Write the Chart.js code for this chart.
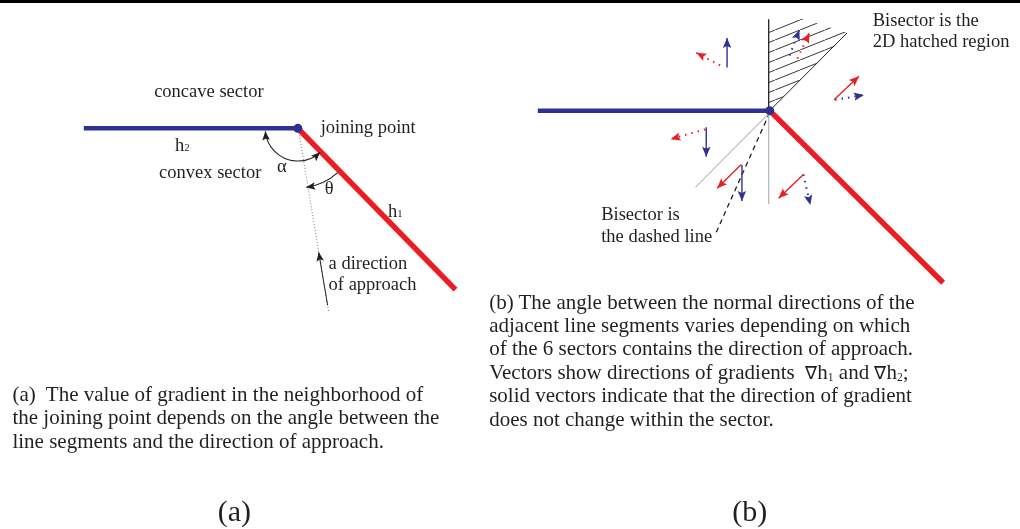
<!DOCTYPE html>
<html>
<head>
<meta charset="utf-8">
<script src="https://cdn.jsdelivr.net/npm/chart.js@4/dist/chart.umd.min.js"></script>
<style>
  html, body { margin: 0; padding: 0; background: #fff; }
  #wrap { position: relative; width: 1020px; height: 529px; overflow: hidden;
          font-family: "Liberation Serif", "Times New Roman", serif; color: #231f20; }
  #topRule { position: absolute; left: 0; top: 0; width: 1020px; height: 2.5px; background: #000; }
  #fig { position: absolute; left: 0; top: 0; }
  .lbl { position: absolute; white-space: nowrap; font-size: 18.5px; line-height: 1; transform: translateY(-50%); }
  .cap { position: absolute; white-space: nowrap; font-size: 21px; line-height: 23.4px; }
  .tag { position: absolute; white-space: nowrap; font-size: 30px; line-height: 1; transform: translate(-50%, -50%); }
  .sub { font-size: 58%; }
  .csub { font-size: 55%; vertical-align: -0.15em; line-height: 0; }
  .nab { font-size: 88%; line-height: 0; font-weight: 300; }
</style>
</head>
<body>
<div id="wrap">
  <canvas id="fig" width="1020" height="529"></canvas>
  <div id="topRule"></div>
</div>
<script>
// ── Colours ────────────────────────────────────────────────────────────────
const BLUE = '#2e3192';
const RED  = '#ed1c24';
const INK  = '#231f20';

// ── Panel (a) geometry (figure units = px of the 1020x529 sheet) ───────────
const jointA        = [{ x: 296, y: 126 }];
const blueSegA      = [{ x: 80,  y: 126 }, { x: 296, y: 126 }];
const redSegA       = [{ x: 296, y: 126 }, { x: 455, y: 290 }];
const approachLine  = [{ x: 297, y: 130 }, { x: 327, y: 312 }];
const approachArrow = [{ x: 326, y: 306 }, { x: 317, y: 252 }];
// arcs: centre, radius, from/to angle (deg, clockwise from +x), heads at ends
const arcAlpha = { cx: 296, cy: 126, r: 33, from: 47, to: 175, headFrom: true,  headTo: true };
const arcTheta = { cx: 296, cy: 126, r: 60, from: 48, to: 82,  headFrom: false, headTo: true };

// ── Panel (b) geometry ─────────────────────────────────────────────────────
const jointB       = [{ x: 772, y: 108 }];
const blueSegB     = [{ x: 538, y: 108 }, { x: 772, y: 108 }];
const redSegB      = [{ x: 772, y: 108 }, { x: 947, y: 283 }];
const hatchRegion  = [{ x: 771, y: 108 }, { x: 771, y: 21 }, { x: 797, y: 12 }, { x: 851, y: 29 }];
const hatchSide    = [{ x: 771, y: 15 },  { x: 771, y: 108 }];
const hatchDiag    = [{ x: 772, y: 108 }, { x: 850, y: 29 }];
const grayDiag     = [{ x: 697, y: 186 }, { x: 772, y: 110 }];
const grayVert     = [{ x: 771, y: 110 }, { x: 771, y: 203 }];
const dashedBisect = [{ x: 772, y: 110 }, { x: 718, y: 232 }];

// gradient vectors: [from, to], colour, dotted?
const vectors = [
  { pts: [{ x: 729, y: 64 },  { x: 729, y: 34 }],  color: BLUE, dotted: false },
  { pts: [{ x: 722, y: 62 },  { x: 698, y: 49 }],  color: RED,  dotted: true  },
  { pts: [{ x: 792, y: 52 },  { x: 802, y: 26 }],  color: BLUE, dotted: true  },
  { pts: [{ x: 800, y: 55 },  { x: 812, y: 29 }],  color: RED,  dotted: true  },
  { pts: [{ x: 837, y: 97 },  { x: 862, y: 73 }],  color: RED,  dotted: false },
  { pts: [{ x: 838, y: 97 },  { x: 867, y: 92 }],  color: BLUE, dotted: true  },
  { pts: [{ x: 707, y: 127 }, { x: 672, y: 137 }], color: RED,  dotted: true  },
  { pts: [{ x: 708, y: 125 }, { x: 708, y: 155 }], color: BLUE, dotted: false },
  { pts: [{ x: 743, y: 163 }, { x: 719, y: 187 }], color: RED,  dotted: false },
  { pts: [{ x: 744, y: 163 }, { x: 744, y: 200 }], color: BLUE, dotted: false },
  { pts: [{ x: 806, y: 173 }, { x: 781, y: 197 }], color: RED,  dotted: false },
  { pts: [{ x: 806, y: 173 }, { x: 813, y: 204 }], color: BLUE, dotted: true  },
];

// ── Text ───────────────────────────────────────────────────────────────────
const labelTexts = [
  'concave sector', 'joining point', 'h<span class="sub">2</span>', 'convex sector',
  'α', 'θ', 'h<span class="sub">1</span>', 'a direction', 'of approach',
  'Bisector is the', '2D hatched region', 'Bisector is', 'the dashed line'
];
const labelAnchors = [
  { x: 151, y: 88 }, { x: 319, y: 125 }, { x: 172, y: 143 }, { x: 156, y: 170 },
  { x: 275, y: 164 }, { x: 323, y: 187 }, { x: 387, y: 210 }, { x: 327, y: 263 }, { x: 327, y: 284 },
  { x: 876, y: 16 }, { x: 876, y: 37 }, { x: 602, y: 213 }, { x: 602, y: 235 }
];
const captionA = [
  '(a)&nbsp; The value of gradient in the neighborhood of',
  'the joining point depends on the angle between the',
  'line segments and the direction of approach.'
];
const captionB = [
  '(b) The angle between the normal directions of the',
  'adjacent line segments varies depending on which',
  'of the 6 sectors contains the direction of approach.',
  'Vectors show directions of gradients &nbsp;<span class="nab">∇</span>h<span class="csub">1</span> and <span class="nab">∇</span>h<span class="csub">2</span>;',
  'solid vectors indicate that the direction of gradient',
  'does not change within the sector.'
];
const panelTags = ['(a)', '(b)'];
const panelTagAnchors = [{ x: 232, y: 515 }, { x: 752, y: 515 }];

// ── Helpers ────────────────────────────────────────────────────────────────
function lineSet(data, color, width, extra) {
  return Object.assign({
    data, showLine: true, borderColor: color, backgroundColor: color,
    borderWidth: width, pointRadius: 0, pointHoverRadius: 0,
    fill: false, tension: 0, borderCapStyle: 'butt', order: 5
  }, extra || {});
}

function hatchPattern() {
  const w = 25, h = 10;
  const cv = document.createElement('canvas');
  cv.width = w; cv.height = h;
  const g = cv.getContext('2d');
  g.strokeStyle = INK; g.lineWidth = 0.9;
  g.beginPath();
  g.moveTo(-w, 2 * h); g.lineTo(2 * w, -h);
  g.stroke();
  return g.createPattern(cv, 'repeat');
}

function drawHead(c, x, y, ang, len, color) {
  const half = len * 0.42;
  c.save();
  c.fillStyle = color;
  c.translate(x, y); c.rotate(ang);
  c.beginPath();
  c.moveTo(0, 0); c.lineTo(-len, -half); c.lineTo(-len * 0.8, 0); c.lineTo(-len, half);
  c.closePath(); c.fill();
  c.restore();
}

const arrowHeads = {
  id: 'arrowHeads',
  afterDatasetsDraw(chart) {
    const c = chart.ctx;
    chart.data.datasets.forEach((d, i) => {
      if (!d.arrowHead) return;
      const pts = chart.getDatasetMeta(i).data;
      const a = pts[pts.length - 2], b = pts[pts.length - 1];
      drawHead(c, b.x, b.y, Math.atan2(b.y - a.y, b.x - a.x), d.arrowHead, d.borderColor);
    });
    const xs = chart.scales.x, ys = chart.scales.y;
    [arcAlpha, arcTheta].forEach(arc => {
      const cx = xs.getPixelForValue(arc.cx), cy = ys.getPixelForValue(arc.cy);
      const r = xs.getPixelForValue(arc.cx + arc.r) - cx;
      const a0 = arc.from * Math.PI / 180, a1 = arc.to * Math.PI / 180;
      c.save();
      c.strokeStyle = INK; c.lineWidth = 1.1;
      c.beginPath(); c.arc(cx, cy, r, a0, a1); c.stroke();
      c.restore();
      if (arc.headTo)   drawHead(c, cx + r * Math.cos(a1), cy + r * Math.sin(a1), a1 + Math.PI / 2, 9, INK);
      if (arc.headFrom) drawHead(c, cx + r * Math.cos(a0), cy + r * Math.sin(a0), a0 - Math.PI / 2, 9, INK);
    });
  }
};

// ── Datasets ───────────────────────────────────────────────────────────────
const datasets = [
  lineSet(hatchRegion, 'rgba(0,0,0,0)', 1, { fill: 'shape', backgroundColor: hatchPattern(), order: 20 }),
  lineSet(hatchSide, INK, 1.3, { order: 10 }),
  lineSet(hatchDiag, INK, 1, { order: 10 }),
  lineSet(grayDiag, '#9a9a9a', 1, { order: 10 }),
  lineSet(grayVert, '#b4b4b4', 1.2, { order: 10 }),
  lineSet(dashedBisect, INK, 1.3, { borderDash: [5, 4], order: 10 }),
  lineSet(approachLine, '#7a7a7a', 1, { borderDash: [1, 2], order: 10 }),
  lineSet(approachArrow, INK, 1, { arrowHead: 9, order: 9 }),
  lineSet(blueSegA, BLUE, 4.5, { order: 2 }),
  lineSet(redSegA, RED, 5.5, { order: 2 }),
  lineSet(blueSegB, BLUE, 4.5, { order: 2 }),
  lineSet(redSegB, RED, 5.5, { order: 2 }),
  ...vectors.map(v => lineSet(v.pts, v.color, v.dotted ? 2 : 1.4,
    { borderDash: v.dotted ? [1.5, 5] : [], arrowHead: 10, order: 4 })),
  { data: jointA, showLine: false, pointRadius: 4.5, pointBackgroundColor: BLUE, pointBorderWidth: 0, order: 0 },
  { data: jointB, showLine: false, pointRadius: 4.5, pointBackgroundColor: BLUE, pointBorderWidth: 0, order: 0 },
];

const chart = new Chart(document.getElementById('fig'), {
  type: 'scatter',
  data: { datasets },
  options: {
    responsive: false, animation: false, devicePixelRatio: 1, events: [],
    layout: { padding: 0 },
    plugins: { legend: { display: false }, tooltip: { enabled: false } },
    scales: {
      x: { type: 'linear', min: 0, max: 1020, display: false },
      y: { type: 'linear', min: 0, max: 529, reverse: true, display: false }
    }
  },
  plugins: [arrowHeads]
});

// ── Place text using the chart's scales ────────────────────────────────────
const wrap = document.getElementById('wrap');
const px = v => chart.scales.x.getPixelForValue(v);
const py = v => chart.scales.y.getPixelForValue(v);

function addDiv(cls, html, left, top) {
  const el = document.createElement('div');
  el.className = cls;
  el.innerHTML = html;
  el.style.left = left + 'px';
  el.style.top = top + 'px';
  wrap.appendChild(el);
}

labelTexts.forEach((t, i) => addDiv('lbl', t, px(labelAnchors[i].x), py(labelAnchors[i].y)));
addDiv('cap', captionA.join('<br>'), px(8), py(397) - 11.7);
addDiv('cap', captionB.join('<br>'), px(489), py(303) - 11.7);
panelTags.forEach((t, i) => addDiv('tag', t, px(panelTagAnchors[i].x), py(panelTagAnchors[i].y)));
</script>
</body>
</html>
